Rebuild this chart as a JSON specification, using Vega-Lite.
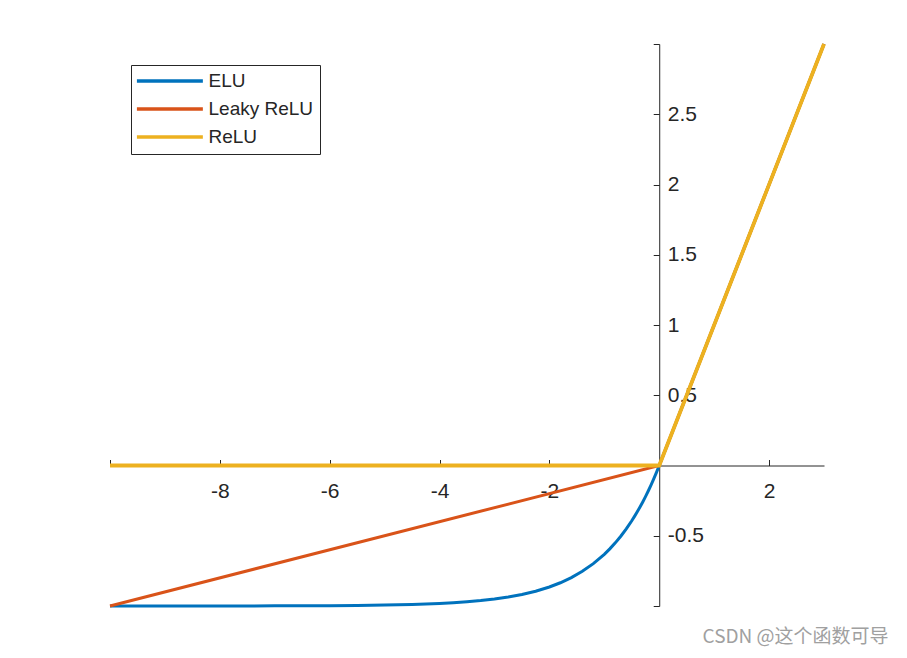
{
  "$schema": "https://vega.github.io/schema/vega-lite/v6.json",
  "autosize": {"type": "none"},
  "width": 714,
  "height": 562,
  "padding": {"left": 110, "top": 44, "right": 83, "bottom": 52},
  "background": "#ffffff",
  "title": {
    "text": "CSDN @这个函数可导",
    "orient": "bottom",
    "anchor": "end",
    "offset": 12,
    "dx": 57,
    "font": "Noto Sans CJK SC",
    "fontSize": 19,
    "fontWeight": "normal",
    "color": "#a0a0a0"
  },
  "data": {
    "values": [
      {"x": -10, "y": -0.99995, "f": "ELU"},
      {"x": -9, "y": -0.99988, "f": "ELU"},
      {"x": -8, "y": -0.99966, "f": "ELU"},
      {"x": -7, "y": -0.99909, "f": "ELU"},
      {"x": -6, "y": -0.99752, "f": "ELU"},
      {"x": -5.5, "y": -0.99591, "f": "ELU"},
      {"x": -5, "y": -0.99326, "f": "ELU"},
      {"x": -4.5, "y": -0.98889, "f": "ELU"},
      {"x": -4, "y": -0.98168, "f": "ELU"},
      {"x": -3.75, "y": -0.97648, "f": "ELU"},
      {"x": -3.5, "y": -0.9698, "f": "ELU"},
      {"x": -3.25, "y": -0.96123, "f": "ELU"},
      {"x": -3, "y": -0.95021, "f": "ELU"},
      {"x": -2.75, "y": -0.93607, "f": "ELU"},
      {"x": -2.5, "y": -0.91792, "f": "ELU"},
      {"x": -2.25, "y": -0.8946, "f": "ELU"},
      {"x": -2, "y": -0.86466, "f": "ELU"},
      {"x": -1.8, "y": -0.8347, "f": "ELU"},
      {"x": -1.6, "y": -0.7981, "f": "ELU"},
      {"x": -1.4, "y": -0.7534, "f": "ELU"},
      {"x": -1.2, "y": -0.69881, "f": "ELU"},
      {"x": -1, "y": -0.63212, "f": "ELU"},
      {"x": -0.9, "y": -0.59343, "f": "ELU"},
      {"x": -0.8, "y": -0.55067, "f": "ELU"},
      {"x": -0.7, "y": -0.50341, "f": "ELU"},
      {"x": -0.6, "y": -0.45119, "f": "ELU"},
      {"x": -0.5, "y": -0.39347, "f": "ELU"},
      {"x": -0.45, "y": -0.36237, "f": "ELU"},
      {"x": -0.4, "y": -0.32968, "f": "ELU"},
      {"x": -0.35, "y": -0.29531, "f": "ELU"},
      {"x": -0.3, "y": -0.25918, "f": "ELU"},
      {"x": -0.25, "y": -0.2212, "f": "ELU"},
      {"x": -0.2, "y": -0.18127, "f": "ELU"},
      {"x": -0.15, "y": -0.13929, "f": "ELU"},
      {"x": -0.1, "y": -0.09516, "f": "ELU"},
      {"x": -0.05, "y": -0.04877, "f": "ELU"},
      {"x": 0, "y": 0, "f": "ELU"},
      {"x": 3, "y": 3, "f": "ELU"},
      {"x": -10, "y": -1, "f": "Leaky ReLU"},
      {"x": 0, "y": 0, "f": "Leaky ReLU"},
      {"x": 3, "y": 3, "f": "Leaky ReLU"},
      {"x": -10, "y": 0, "f": "ReLU"},
      {"x": 0, "y": 0, "f": "ReLU"},
      {"x": 3, "y": 3, "f": "ReLU"}
    ]
  },
  "encoding": {
    "x": {
      "field": "x",
      "type": "quantitative",
      "scale": {"domain": [-10, 3], "nice": false, "zero": false},
      "axis": {
        "orient": "bottom",
        "offset": -140.5,
        "title": null,
        "values": [-10, -8, -6, -4, -2, 2],
        "tickSize": -6,
        "labelPadding": 21,
        "labelExpr": "datum.value == -10 ? '' : toString(datum.value)",
        "labelFlush": false,
        "labelOverlap": false
      }
    },
    "y": {
      "field": "y",
      "type": "quantitative",
      "scale": {"domain": [-1, 3], "nice": false, "zero": false},
      "axis": {
        "orient": "right",
        "offset": -164.77,
        "title": null,
        "values": [-1, -0.5, 0.5, 1, 1.5, 2, 2.5, 3],
        "tickSize": -6,
        "labelPadding": 14,
        "labelExpr": "datum.value == -1 || datum.value == 3 ? '' : toString(datum.value)",
        "labelFlush": false,
        "labelOverlap": false
      }
    },
    "color": {
      "field": "f",
      "type": "nominal",
      "scale": {"domain": ["ELU", "Leaky ReLU", "ReLU"], "range": ["#0072BD", "#D95319", "#EDB120"]},
      "legend": {"title": null}
    }
  },
  "layer": [
    {
      "transform": [{"filter": "datum.f == 'ELU'"}],
      "mark": {"type": "line", "strokeWidth": 3, "clip": false}
    },
    {
      "transform": [{"filter": "datum.f == 'Leaky ReLU'"}],
      "mark": {"type": "line", "strokeWidth": 3, "clip": false}
    },
    {
      "transform": [{"filter": "datum.f == 'ReLU'"}],
      "mark": {"type": "line", "strokeWidth": 3.8, "clip": false}
    }
  ],
  "config": {
    "view": {"stroke": null},
    "axis": {
      "grid": false,
      "domainColor": "#262626",
      "domainWidth": 1,
      "tickColor": "#262626",
      "tickWidth": 1,
      "labelColor": "#262626",
      "labelFont": "Liberation Sans",
      "labelFontSize": 21
    },
    "legend": {
      "orient": "top-left",
      "offset": 21,
      "strokeColor": "#262626",
      "fillColor": "#ffffff",
      "padding": 6.5,
      "symbolType": "M-1.53,0H8.47",
      "symbolSize": 174,
      "symbolStrokeWidth": 3.5,
      "labelFont": "Liberation Sans",
      "labelFontSize": 19,
      "labelColor": "#262626",
      "labelOffset": 52,
      "rowPadding": 8
    }
  }
}
